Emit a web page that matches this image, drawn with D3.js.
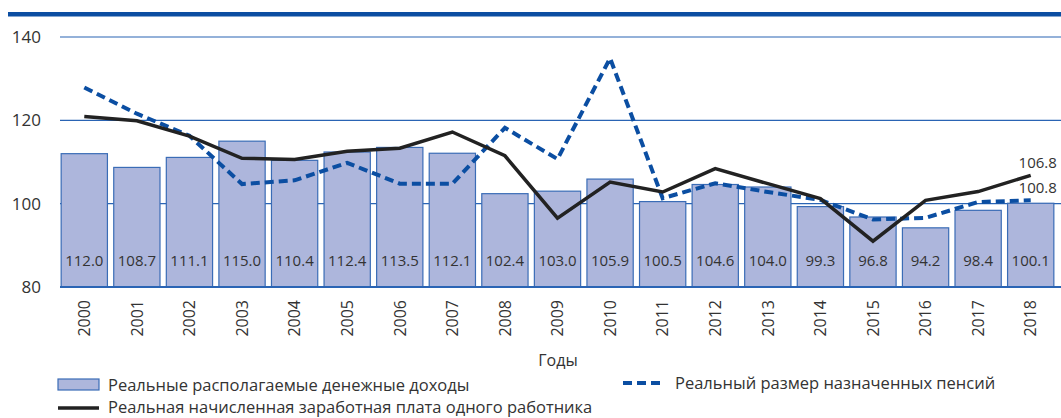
<!DOCTYPE html>
<html><head><meta charset="utf-8">
<script src="https://cdn.jsdelivr.net/npm/d3@7"></script>
<style>body{margin:0;background:#fff}svg{display:block}</style>
</head><body><svg id="c" width="1061" height="418"></svg>
<script>
const years = ["2000","2001","2002","2003","2004","2005","2006","2007","2008","2009","2010","2011","2012","2013","2014","2015","2016","2017","2018"];
const incomes = [112.0,108.7,111.1,115.0,110.4,112.4,113.5,112.1,102.4,103.0,105.9,100.5,104.6,104.0,99.3,96.8,94.2,98.4,100.1];
const wages = [120.9,119.9,116.2,110.9,110.6,112.6,113.3,117.2,111.5,96.5,105.2,102.8,108.4,104.8,101.2,91.0,100.8,102.9,106.8];
const pensions = [127.9,121.6,116.3,104.7,105.6,109.8,104.8,104.8,118.2,110.7,134.9,101.3,104.9,102.8,100.9,96.2,96.6,100.4,100.8];
const yTicks = [80,100,120,140];
const names = ["Реальные располагаемые денежные доходы","Реальная начисленная заработная плата одного работника","Реальный размер назначенных пенсий"];

const svg = d3.select("#c");
const font = "'Open Sans', sans-serif";
const blue = "#0b4ea2";
const x = d3.scaleBand().domain(years).range([58,1057]).paddingInner(0.12).paddingOuter(0.06);
const y = d3.scaleLinear().domain([80,140]).range([287,37]);

svg.append("rect").attr("x",8).attr("y",12).attr("width",1053).attr("height",4.5).attr("fill",blue);

// grid
svg.append("g").selectAll("line").data(yTicks.filter(d=>d>80)).join("line")
  .attr("x1",60).attr("x2",1061).attr("y1",d=>y(d)).attr("y2",d=>y(d))
  .attr("stroke","#2a64b4").attr("stroke-width",1.2);
svg.append("g").selectAll("text").data(yTicks).join("text")
  .attr("x",41).attr("y",d=>y(d)).attr("dy","0.36em").attr("text-anchor","end")
  .attr("font-family",font).attr("font-size",17).attr("fill","#333").text(d=>d);

// bars
svg.append("g").selectAll("rect").data(incomes).join("rect")
  .attr("x",(d,i)=>x(years[i])).attr("width",x.bandwidth())
  .attr("y",d=>y(d)).attr("height",d=>y(80)-y(d))
  .attr("fill","#adb6dc").attr("stroke","#3a6cb6").attr("stroke-width",1.2);
svg.append("g").selectAll("text").data(incomes).join("text")
  .attr("x",(d,i)=>x(years[i])+x.bandwidth()/2).attr("y",261).attr("dy","0.36em")
  .attr("text-anchor","middle").attr("font-family",font).attr("font-size",15).attr("fill","#333")
  .text(d=>d.toFixed(1));

// axis line
svg.append("line").attr("x1",60).attr("x2",1061).attr("y1",y(80)).attr("y2",y(80)).attr("stroke","#2a64b4").attr("stroke-width",2);

// lines
const line = d3.line().x((d,i)=>x(years[i])+x.bandwidth()/2).y(d=>y(d));
svg.append("path").datum(pensions).attr("d",line).attr("fill","none").attr("stroke",blue)
  .attr("stroke-width",4).attr("stroke-dasharray","9,5");
svg.append("path").datum(wages).attr("d",line).attr("fill","none").attr("stroke","#222")
  .attr("stroke-width",3.5);

// end labels
const lx = x(years[18])+x.bandwidth()+3;
svg.append("text").attr("x",lx).attr("y",163).attr("dy","0.36em").attr("text-anchor","end")
  .attr("font-family",font).attr("font-size",15).attr("fill","#333").text(wages[18].toFixed(1));
svg.append("text").attr("x",lx).attr("y",188).attr("dy","0.36em").attr("text-anchor","end")
  .attr("font-family",font).attr("font-size",15).attr("fill","#333").text(pensions[18].toFixed(1));

// x labels
svg.append("g").selectAll("text").data(years).join("text")
  .attr("transform",d=>`translate(${x(d)+x.bandwidth()/2},300) rotate(-90)`)
  .attr("dy","0.36em").attr("text-anchor","end")
  .attr("font-family",font).attr("font-size",16).attr("fill","#333").text(d=>d);
svg.append("text").attr("x",558).attr("y",360).attr("dy","0.36em").attr("text-anchor","middle")
  .attr("font-family",font).attr("font-size",16).attr("fill","#333").text("Годы");

// legend
svg.append("rect").attr("x",58).attr("y",379).attr("width",41).attr("height",11)
  .attr("fill","#adb6dc").attr("stroke","#3a6cb6").attr("stroke-width",1.2);
svg.append("text").attr("x",108).attr("y",385).attr("dy","0.36em").attr("font-family",font)
  .attr("font-size",16.5).attr("fill","#333").text(names[0]);
svg.append("line").attr("x1",58).attr("x2",99).attr("y1",408).attr("y2",408).attr("stroke","#222").attr("stroke-width",3.5);
svg.append("text").attr("x",108).attr("y",407).attr("dy","0.36em").attr("font-family",font)
  .attr("font-size",16.5).attr("fill","#333").text(names[1]);
svg.append("line").attr("x1",623).attr("x2",665).attr("y1",383).attr("y2",383).attr("stroke",blue).attr("stroke-width",4).attr("stroke-dasharray","9,5");
svg.append("text").attr("x",675).attr("y",383).attr("dy","0.36em").attr("font-family",font)
  .attr("font-size",16.5).attr("fill","#333").text(names[2]);
</script></body></html>
